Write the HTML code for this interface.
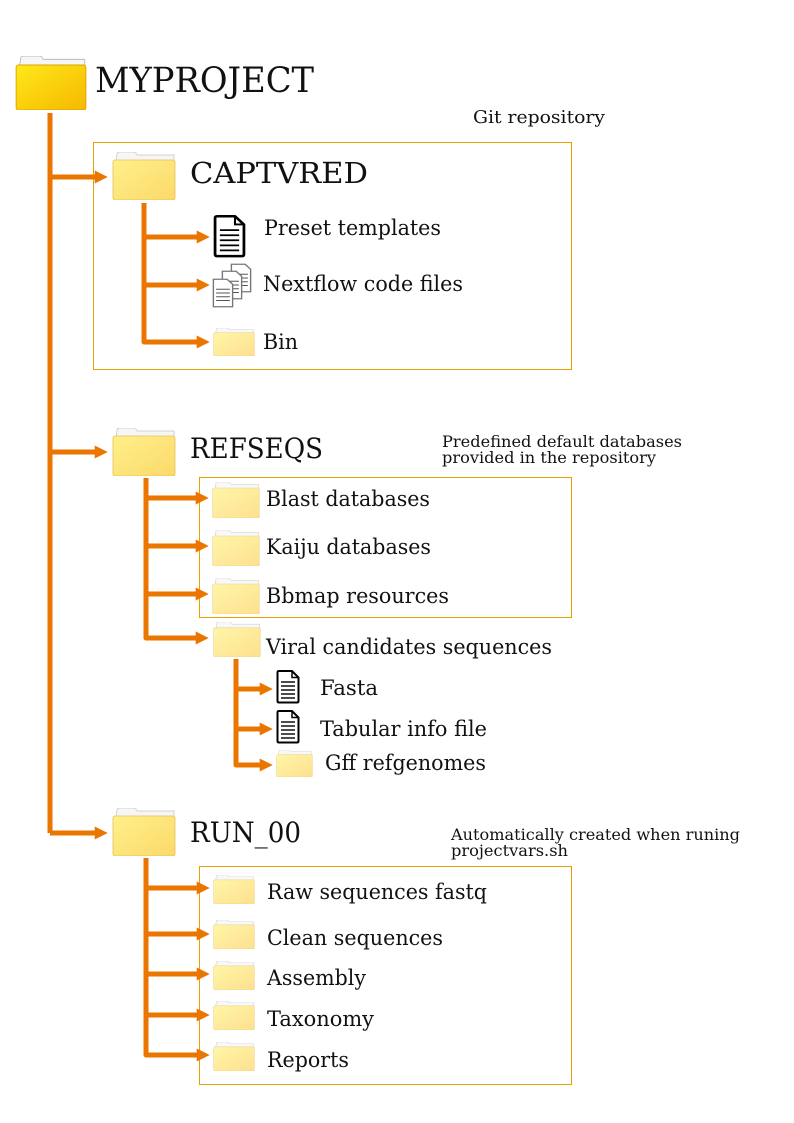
<!DOCTYPE html>
<html><head><meta charset="utf-8"><style>html,body{margin:0;padding:0;background:#fff}svg{display:block}text{font-family:"DejaVu Serif","Liberation Serif",serif;fill:#111}</style></head><body>
<svg width="794" height="1123" viewBox="0 0 794 1123" xmlns="http://www.w3.org/2000/svg">
<defs>
<linearGradient id="gy" x1="0" y1="0" x2="1" y2="1"><stop offset="0" stop-color="#ffe81a"/><stop offset="1" stop-color="#f5b800"/></linearGradient>
<linearGradient id="gl" x1="0" y1="0" x2="1" y2="1"><stop offset="0" stop-color="#fff08a"/><stop offset="1" stop-color="#fbd96a"/></linearGradient>
<linearGradient id="gp" x1="0" y1="0" x2="1" y2="1"><stop offset="0" stop-color="#fff6a8"/><stop offset="1" stop-color="#fde08e"/></linearGradient>
<symbol id="fy" viewBox="0 0 64 48" preserveAspectRatio="none"><path d="M4 10 L5 2 Q5 0 8 0 L22 0 Q24 0 25 3 L62 3 L62 12 Z" fill="#f6f6f6" stroke="#bbb" stroke-width="0.8"/><rect x="1" y="8" width="62" height="40" rx="2" fill="url(#gy)" stroke="#d9a400" stroke-width="0.8"/></symbol>
<symbol id="fl" viewBox="0 0 64 48" preserveAspectRatio="none"><path d="M4 10 L5 2 Q5 0 8 0 L22 0 Q24 0 25 3 L62 3 L62 12 Z" fill="#f6f6f6" stroke="#c8c8c8" stroke-width="0.8"/><rect x="1" y="8" width="62" height="40" rx="2" fill="url(#gl)" stroke="#e3c25a" stroke-width="0.8"/></symbol>
<symbol id="fp" viewBox="0 0 64 48" preserveAspectRatio="none"><path d="M4 10 L5 2 Q5 0 8 0 L22 0 Q24 0 25 3 L62 3 L62 12 Z" fill="#f8f8f8" stroke="#d0d0d0" stroke-width="0.8"/><rect x="1" y="8" width="62" height="40" rx="2" fill="url(#gp)" stroke="#ead08a" stroke-width="0.8"/></symbol>
<symbol id="doc" viewBox="0 0 24 34" preserveAspectRatio="none"><path d="M1.5 2.5 Q1.5 1 3 1 L16 1 L22.5 7.5 L22.5 31 Q22.5 32.5 21 32.5 L3 32.5 Q1.5 32.5 1.5 31 Z" fill="#fff" stroke="#000" stroke-width="2"/><path d="M16 1 L16 7.5 L22.5 7.5" fill="none" stroke="#000" stroke-width="1.5"/><g stroke="#000" stroke-width="1.4"><line x1="5" y1="12" x2="19" y2="12"/><line x1="5" y1="16" x2="19" y2="16"/><line x1="5" y1="20" x2="19" y2="20"/><line x1="5" y1="24" x2="19" y2="24"/><line x1="5" y1="28" x2="19" y2="28"/></g></symbol>
<symbol id="doc2" viewBox="0 0 16 24" preserveAspectRatio="none"><path d="M1 1 L11 1 L15 5 L15 23 L1 23 Z" fill="#fff" stroke="#777" stroke-width="1"/><g stroke="#555" stroke-width="0.8"><line x1="3" y1="9" x2="13" y2="9"/><line x1="3" y1="12" x2="13" y2="12"/><line x1="3" y1="15" x2="13" y2="15"/><line x1="3" y1="18" x2="13" y2="18"/></g></symbol>
<marker id="ah" viewBox="0 0 10 10" refX="1" refY="5" markerWidth="2.6" markerHeight="2.8" orient="auto" markerUnits="strokeWidth"><path d="M0 0 L10 5 L0 10 Z" fill="#ea7600"/></marker>
</defs>

<rect x="93.5" y="142.5" width="478" height="227" fill="none" stroke="#e8a000" stroke-width="1"/>
<rect x="199.5" y="477.5" width="372" height="140" fill="none" stroke="#e8a000" stroke-width="1"/>
<rect x="199.5" y="866.5" width="372" height="218" fill="none" stroke="#e8a000" stroke-width="1"/>

<g fill="none" stroke="#ea7600" stroke-width="5" stroke-linejoin="round">
<path d="M50 113 V833"/>
<path d="M50 177 H96" marker-end="url(#ah)"/>
<path d="M50 452 H96" marker-end="url(#ah)"/>
<path d="M50 833 H96" marker-end="url(#ah)"/>
<path d="M144 203 V342 H198" marker-end="url(#ah)"/>
<path d="M144 237 H198" marker-end="url(#ah)"/>
<path d="M144 285 H198" marker-end="url(#ah)"/>
<path d="M146 478 V638 H197" marker-end="url(#ah)"/>
<path d="M146 498 H197" marker-end="url(#ah)"/>
<path d="M146 546 H197" marker-end="url(#ah)"/>
<path d="M146 594 H197" marker-end="url(#ah)"/>
<path d="M236 659 V765 H261" marker-end="url(#ah)"/>
<path d="M236 689 H261" marker-end="url(#ah)"/>
<path d="M236 729 H261" marker-end="url(#ah)"/>
<path d="M146 858 V1055 H198" marker-end="url(#ah)"/>
<path d="M146 888 H198" marker-end="url(#ah)"/>
<path d="M146 934 H198" marker-end="url(#ah)"/>
<path d="M146 974 H198" marker-end="url(#ah)"/>
<path d="M146 1015 H198" marker-end="url(#ah)"/>
</g>

<use href="#fy" x="15" y="56" width="72" height="54"/>
<text x="95" y="92" font-size="35" textLength="219" lengthAdjust="spacingAndGlyphs">MYPROJECT</text>
<text x="473" y="123" font-size="18" textLength="132" lengthAdjust="spacingAndGlyphs">Git repository</text>

<use href="#fl" x="112" y="152" width="64" height="48"/>
<text x="190" y="183" font-size="29" textLength="178" lengthAdjust="spacingAndGlyphs">CAPTVRED</text>
<use href="#doc" x="213" y="215" width="33" height="43"/>
<text x="264" y="235" font-size="21" textLength="177" lengthAdjust="spacingAndGlyphs">Preset templates</text>
<use href="#doc2" x="230" y="263" width="22" height="30"/>
<use href="#doc2" x="221" y="270" width="22" height="30"/>
<use href="#doc2" x="212" y="278" width="22" height="30"/>
<text x="263" y="291" font-size="21" textLength="200" lengthAdjust="spacingAndGlyphs">Nextflow code files</text>
<use href="#fp" x="213" y="328" width="42" height="28"/>
<text x="263" y="349" font-size="21" textLength="35" lengthAdjust="spacingAndGlyphs">Bin</text>

<use href="#fl" x="112" y="428" width="64" height="48"/>
<text x="190" y="458" font-size="28" textLength="133" lengthAdjust="spacingAndGlyphs">REFSEQS</text>
<text x="442" y="447" font-size="16" textLength="240" lengthAdjust="spacingAndGlyphs">Predefined default databases</text>
<text x="442" y="463" font-size="16" textLength="214" lengthAdjust="spacingAndGlyphs">provided in the repository</text>
<use href="#fp" x="212" y="482" width="48" height="36"/>
<text x="266" y="506" font-size="21" textLength="164" lengthAdjust="spacingAndGlyphs">Blast databases</text>
<use href="#fp" x="212" y="530" width="48" height="36"/>
<text x="266" y="554" font-size="21" textLength="165" lengthAdjust="spacingAndGlyphs">Kaiju databases</text>
<use href="#fp" x="212" y="578" width="48" height="36"/>
<text x="266" y="603" font-size="21" textLength="183" lengthAdjust="spacingAndGlyphs">Bbmap resources</text>
<use href="#fp" x="213" y="622" width="48" height="35"/>
<text x="266" y="654" font-size="21" textLength="286" lengthAdjust="spacingAndGlyphs">Viral candidates sequences</text>
<use href="#doc" x="276" y="670" width="24" height="34"/>
<text x="320" y="695" font-size="21" textLength="58" lengthAdjust="spacingAndGlyphs">Fasta</text>
<use href="#doc" x="276" y="710" width="24" height="34"/>
<text x="320" y="736" font-size="21" textLength="167" lengthAdjust="spacingAndGlyphs">Tabular info file</text>
<use href="#fp" x="276" y="750" width="37" height="27"/>
<text x="325" y="770" font-size="21" textLength="161" lengthAdjust="spacingAndGlyphs">Gff refgenomes</text>

<use href="#fl" x="112" y="808" width="64" height="48"/>
<text x="190" y="842" font-size="28" textLength="111" lengthAdjust="spacingAndGlyphs">RUN_00</text>
<text x="451" y="840" font-size="16" textLength="289" lengthAdjust="spacingAndGlyphs">Automatically created when runing</text>
<text x="451" y="856" font-size="16" textLength="117" lengthAdjust="spacingAndGlyphs">projectvars.sh</text>
<use href="#fp" x="213" y="875" width="42" height="29"/>
<text x="267" y="899" font-size="21" textLength="220" lengthAdjust="spacingAndGlyphs">Raw sequences fastq</text>
<use href="#fp" x="213" y="920" width="42" height="29"/>
<text x="267" y="945" font-size="21" textLength="176" lengthAdjust="spacingAndGlyphs">Clean sequences</text>
<use href="#fp" x="213" y="961" width="42" height="29"/>
<text x="267" y="985" font-size="21" textLength="99" lengthAdjust="spacingAndGlyphs">Assembly</text>
<use href="#fp" x="213" y="1001" width="42" height="29"/>
<text x="267" y="1026" font-size="21" textLength="107" lengthAdjust="spacingAndGlyphs">Taxonomy</text>
<use href="#fp" x="213" y="1042" width="42" height="29"/>
<text x="267" y="1067" font-size="21" textLength="82" lengthAdjust="spacingAndGlyphs">Reports</text>
</svg>
</body></html>
